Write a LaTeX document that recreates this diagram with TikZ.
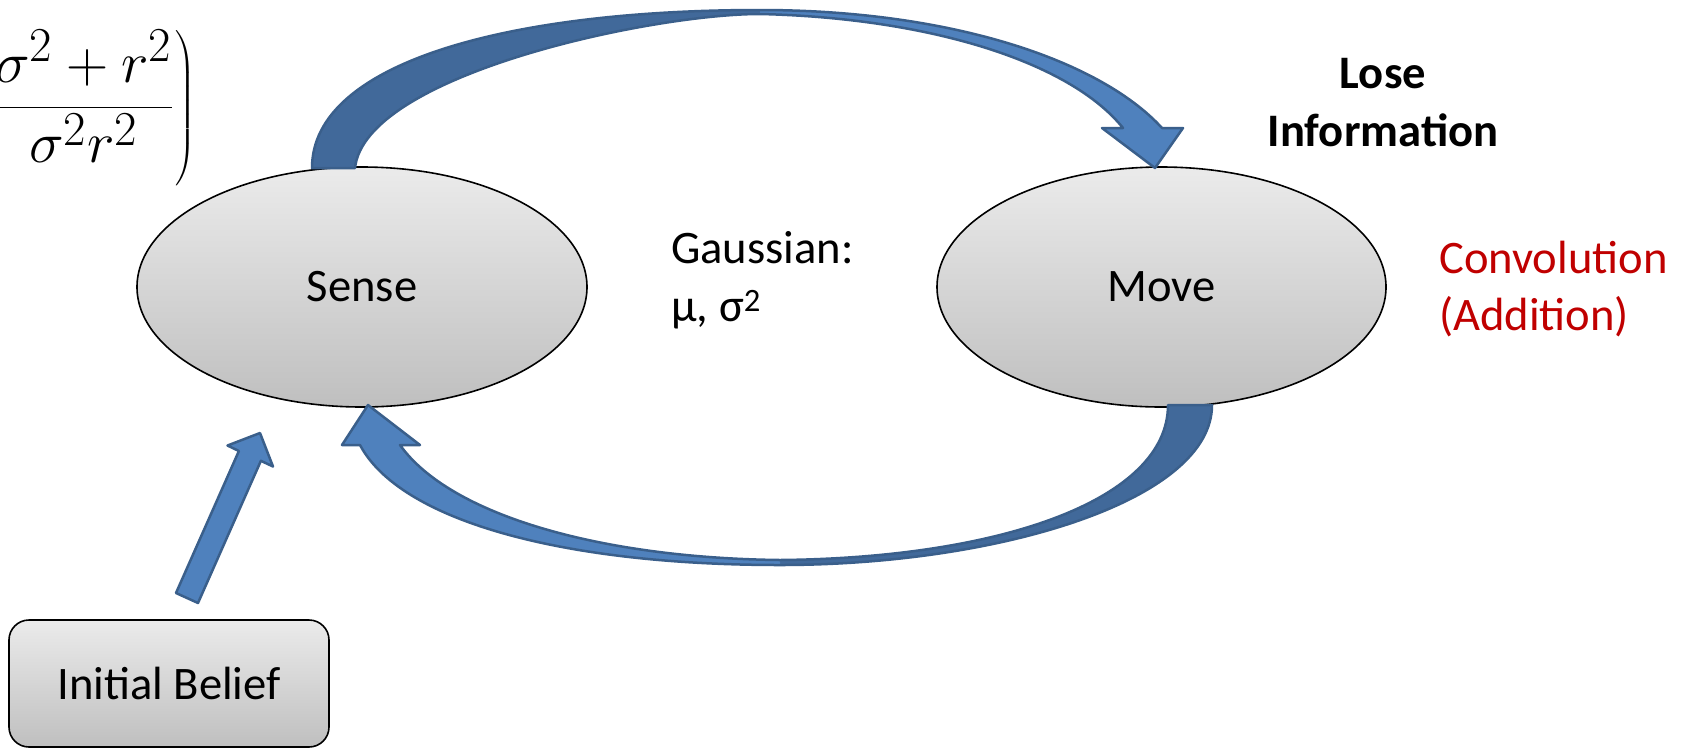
\documentclass[tikz,border=0pt]{standalone}
\usepackage{graphicx}
\usepackage[no-math]{fontspec}
\setmainfont{Carlito}
\usetikzlibrary{shapes.geometric}
\definecolor{elltop}{HTML}{EBEBEB}
\definecolor{ellbot}{HTML}{BFBFBF}
\definecolor{arrlight}{HTML}{4F81BD}
\definecolor{arrdark}{HTML}{41699A}
\definecolor{arrline}{HTML}{3A5F8B}
\definecolor{convred}{HTML}{C00000}
\tikzset{
  ellnode/.style={ellipse, draw=black, line width=1.6pt, top color=elltop, bottom color=ellbot, inner sep=0pt},
  boxnode/.style={rectangle, rounded corners=20pt, draw=black, line width=1.6pt, top color=elltop, bottom color=ellbot, inner sep=0pt},
  txt/.style={font=\fontsize{46.6}{57}\selectfont, inner sep=0pt},
  arrowline/.style={draw=arrline, line width=2.5pt, line join=round},
  lightfill/.style={fill=arrlight},
  darkfill/.style={fill=arrdark}
}
\begin{document}
\begin{tikzpicture}[x=1pt,y=-1pt]
\clip (0,0) rectangle (1683,748);
\fill[white] (0,0) rectangle (1683,748);

% formula (left part cut off by the page edge)
\node[inner sep=0pt, anchor=base east] (formula) at (196,122.5)
  {\scalebox{2.35}{\Huge$\displaystyle\left.\frac{\sigma^2+r^2}{\sigma^2 r^2}\right)$}};

% ellipses and box
\node[ellnode, minimum width=450pt, minimum height=240pt, txt] (sense) at (362,287) {Sense};
\node[ellnode, minimum width=449pt, minimum height=240pt, txt] (move) at (1161.5,287) {Move};
\node[boxnode, minimum width=320pt, minimum height=127pt, txt] (init) at (169,683.5) {Initial Belief};

% texts
\node[txt, anchor=base west] (gauss1) at (671,263) {Gaussian:};
\node[txt, anchor=base west] (gauss2) at (671,321) {μ, σ\textsuperscript{2}};
\node[txt, anchor=base, font=\fontsize{46.6}{57}\selectfont\bfseries] (lose1) at (1383,88) {Lose};
\node[txt, anchor=base, font=\fontsize{46.6}{57}\selectfont\bfseries] (lose2) at (1383,146) {Information};
\node[txt, anchor=base west, text=convred] (conv1) at (1439,273) {Convolution};
\node[txt, anchor=base west, text=convred] (conv2) at (1439,330) {(Addition)};

% top curved arrow: Sense -> Move
\fill[darkfill] (312,168) .. controls (312,62) and (510,10) .. (760,10) -- (760,14)
  .. controls (650,14) and (365,75) .. (355,168) -- cycle;
\fill[lightfill] (760,10) .. controls (950,10) and (1100,60) .. (1162,128) -- (1183,128)
  -- (1155,168) -- (1102,128) -- (1123,128) .. controls (1070,62) and (930,18) .. (760,14) -- cycle;
\draw[arrowline] (312,168) .. controls (312,62) and (510,10) .. (760,10)
  .. controls (950,10) and (1100,60) .. (1162,128) -- (1183,128) -- (1155,168) -- (1102,128)
  -- (1123,128) .. controls (1070,62) and (930,18) .. (760,14)
  .. controls (650,14) and (365,75) .. (355,168) -- cycle;

% bottom curved arrow: Move -> Sense
\fill[darkfill] (1212,405) .. controls (1212,500) and (1000,565) .. (780,565) -- (780,560)
  .. controls (1000,558) and (1168,500) .. (1168,405) -- cycle;
\fill[lightfill] (780,565) .. controls (560,565) and (400,520) .. (360,445) -- (342,445)
  -- (368,405) -- (420,445) -- (400,445) .. controls (450,515) and (600,558) .. (780,560) -- cycle;
\draw[arrowline] (1212,405) .. controls (1212,500) and (1000,565) .. (780,565)
  .. controls (560,565) and (400,520) .. (360,445) -- (342,445) -- (368,405) -- (420,445)
  -- (400,445) .. controls (450,515) and (600,558) .. (780,560)
  .. controls (1000,558) and (1168,500) .. (1168,405) -- cycle;

% straight arrow: Initial Belief -> Sense
\filldraw[lightfill, arrowline] (176,593) -- (238.9,451) -- (227.5,445.5) -- (260,433)
  -- (273,466.5) -- (260.9,460.8) -- (198,603) -- cycle;
\end{tikzpicture}
\end{document}
